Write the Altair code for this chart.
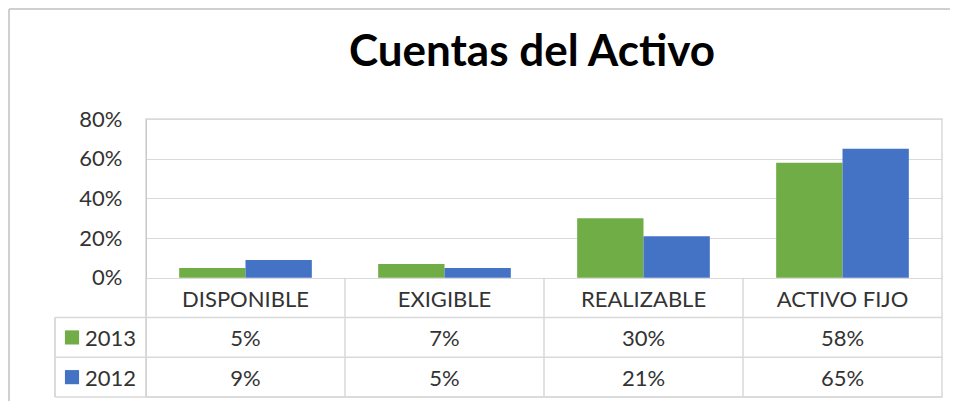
import altair as alt
import pandas as pd

title_text = "Cuentas del Activo"
categories = ["DISPONIBLE", "EXIGIBLE", "REALIZABLE", "ACTIVO FIJO"]
years = ["2013", "2012"]
values_2013 = [0.05, 0.07, 0.30, 0.58]
values_2012 = [0.09, 0.05, 0.21, 0.65]
colors = ["#70AD47", "#4472C4"]
y_ticks = [0, 0.2, 0.4, 0.6, 0.8]

# table layout in y-scale units (below zero)
header_row = -0.1
year_rows = [-0.3, -0.5]
row_lines = [-0.2, -0.4, -0.6]

W, H = 796, 278
FONT = "Lato"
TXT = "#333333"
GRID = "#D9D9D9"

rows = []
for yr, vals, ry in zip(years, [values_2013, values_2012], year_rows):
    for c, v in zip(categories, vals):
        rows.append({"cat": c, "year": yr, "value": v, "row": ry,
                     "label": f"{round(v * 100)}%"})
df = pd.DataFrame(rows)
hdr = pd.DataFrame({"cat": categories, "row": [header_row] * len(categories)})
legend_df = pd.DataFrame({"year": years, "row": year_rows})
lines_df = pd.DataFrame({"row": row_lines})
title_df = pd.DataFrame({"t": [title_text]})

xscale = alt.Scale(domain=categories, paddingInner=0, paddingOuter=0)
yscale = alt.Scale(domain=[-0.6, 0.8], nice=False, zero=False)
cscale = alt.Scale(domain=years, range=colors)


def X(**kw):
    return alt.X("cat:N", sort=categories, scale=xscale, axis=None, **kw)


bars = alt.Chart(df).mark_bar().encode(
    x=X(),
    xOffset=alt.XOffset("year:N", sort=years,
                        scale=alt.Scale(domain=years, paddingInner=0, paddingOuter=0.5)),
    y=alt.Y("value:Q", scale=yscale, title=None,
            axis=alt.Axis(values=y_ticks, format=".0%", grid=True, gridColor=GRID,
                          domain=True, domainColor="#C8C8C8", ticks=False,
                          labelFontSize=22, labelFont=FONT, labelColor=TXT,
                          labelPadding=24)),
    color=alt.Color("year:N", scale=cscale, legend=None),
)

header_text = alt.Chart(hdr).mark_text(font=FONT, fontSize=22, color=TXT, dy=2).encode(
    x=X(), y=alt.Y("row:Q", scale=yscale), text="cat:N")

value_text = alt.Chart(df).mark_text(font=FONT, fontSize=22, color=TXT, dy=2).encode(
    x=X(), y=alt.Y("row:Q", scale=yscale), text="label:N")

hlines = alt.Chart(lines_df).mark_rule(color=GRID, strokeWidth=1.5).encode(
    y=alt.Y("row:Q", scale=yscale), x=alt.value(-91), x2=alt.value(W))

vlines = alt.Chart(hdr).mark_rule(color=GRID, strokeWidth=1.5).encode(
    x=X(bandPosition=0), y=alt.Y("zero:Q", scale=yscale), y2="bottom:Q",
).transform_calculate(zero="0", bottom="-0.6")

vline_left = alt.Chart(legend_df).mark_rule(color=GRID, strokeWidth=1.5).encode(
    x=alt.value(-91), y=alt.Y("top:Q", scale=yscale), y2="bottom:Q",
).transform_calculate(top="-0.2", bottom="-0.6")

leg_sq = alt.Chart(legend_df).mark_square(size=200, opacity=1, filled=True).encode(
    x=alt.value(-74), y=alt.Y("row:Q", scale=yscale),
    color=alt.Color("year:N", scale=cscale, legend=None))

leg_txt = alt.Chart(legend_df).mark_text(font=FONT, fontSize=22, color=TXT, align="left", dy=2).encode(
    x=alt.value(-61), y=alt.Y("row:Q", scale=yscale), text="year:N")

title_mark = alt.Chart(title_df).mark_text(
    font=FONT, fontSize=44, fontWeight="bold", color="black",
    align="center", baseline="alphabetic").encode(
    x=alt.value(W / 2 - 12), y=alt.value(-53), text="t:N")

frame_top = alt.Chart(legend_df).mark_rule(color="#D0D0D0", strokeWidth=2).encode(
    x=alt.value(-137), x2=alt.value(W + 8), y=alt.value(-110))
frame_left = alt.Chart(legend_df).mark_rule(color="#D0D0D0", strokeWidth=2).encode(
    x=alt.value(-137), y=alt.value(-110), y2=alt.value(H + 10))

chart = alt.layer(
    hlines, vlines, vline_left, bars, header_text, value_text, leg_sq, leg_txt,
    title_mark, frame_top, frame_left,
).properties(
    width=W, height=H,
    padding={"left": 138, "top": 111, "right": 8, "bottom": 4},
    autosize=alt.AutoSizeParams(type="none"),
).configure_view(stroke=GRID, strokeWidth=1.5)

chart.save("out.html", embed_options={"renderer": "svg", "actions": False})
